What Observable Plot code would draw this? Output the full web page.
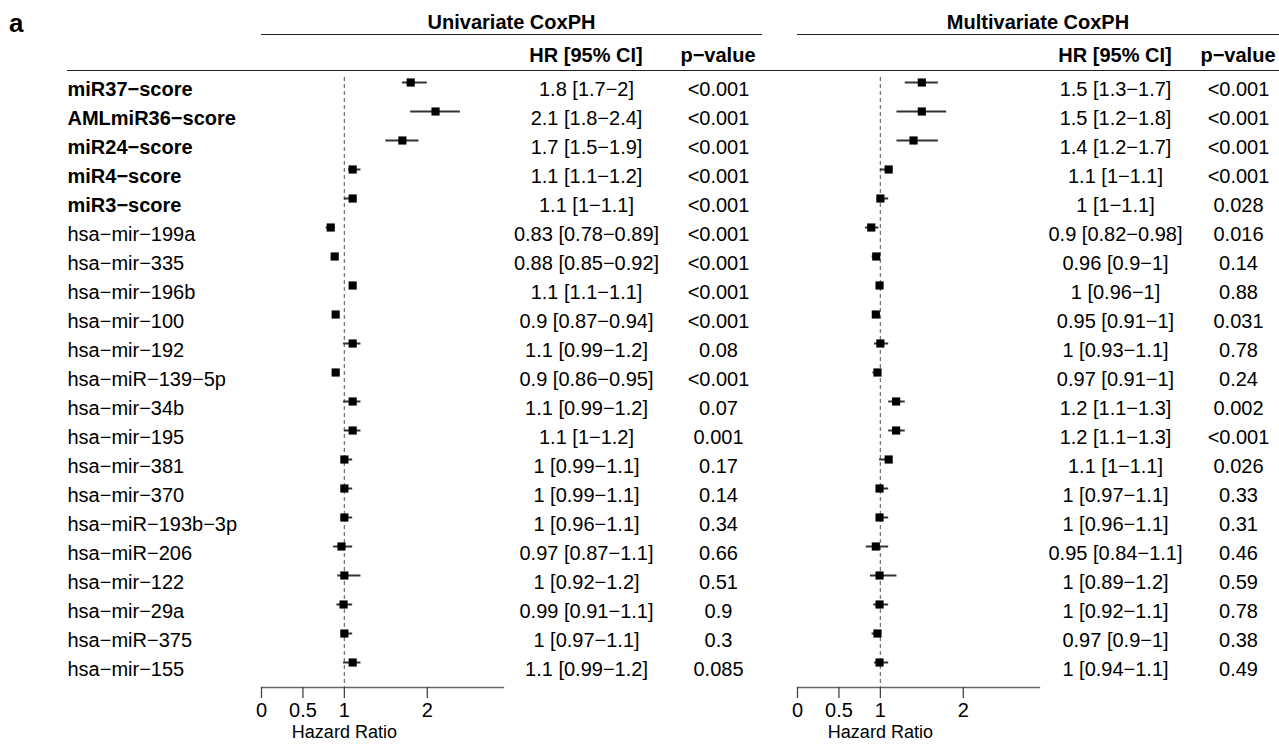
<!DOCTYPE html>
<html>
<head>
<meta charset="utf-8">
<script src="https://cdn.jsdelivr.net/npm/d3@7"></script>
<script src="https://cdn.jsdelivr.net/npm/@observablehq/plot@0.6"></script>
<style>
  html, body { margin: 0; padding: 0; background: white; }
  #wrap { position: relative; width: 1279px; height: 744px; overflow: hidden; font-family: "Liberation Sans", Arial, sans-serif; color: black; }
  .abs { position: absolute; white-space: nowrap; }
  .hdr { font-weight: bold; font-size: 20px; line-height: 20px; text-align: center; }
  #charts { position: absolute; left: 0; top: 71px; width: 1279px; height: 673px; }
  #charts > svg { position: absolute; top: 0; max-width: none !important; }
</style>
</head>
<body>
<div id="wrap">
  <div id="charts"></div>
  <div class="abs" style="left:9px;top:10px;font-weight:bold;font-size:26px;line-height:26px;">a</div>
  <div class="abs hdr" id="t1" style="top:10px;height:24px;line-height:24px;border-bottom:1.3px solid #222;"></div>
  <div class="abs hdr" id="t2" style="top:10px;height:24px;line-height:24px;border-bottom:1.3px solid #222;"></div>
  <div class="abs hdr" id="h1" style="top:45px;width:200px;"></div>
  <div class="abs hdr" id="h2" style="top:45px;width:200px;"></div>
  <div class="abs hdr" id="h3" style="top:45px;width:200px;"></div>
  <div class="abs hdr" id="h4" style="top:45px;width:200px;"></div>
  <div class="abs" style="left:67px;top:70px;width:1212px;height:0;border-top:1.3px solid #222;"></div>
</div>
<script>
// ---- data ----
const names = ["miR37−score","AMLmiR36−score","miR24−score","miR4−score","miR3−score",
  "hsa−mir−199a","hsa−mir−335","hsa−mir−196b","hsa−mir−100","hsa−mir−192","hsa−miR−139−5p",
  "hsa−mir−34b","hsa−mir−195","hsa−mir−381","hsa−mir−370","hsa−miR−193b−3p","hsa−miR−206",
  "hsa−mir−122","hsa−mir−29a","hsa−miR−375","hsa−mir−155"];
const boldCount = 5;

const uniHR = [1.8, 2.1, 1.7, 1.1, 1.1, 0.835, 0.883, 1.1, 0.895, 1.1, 0.895, 1.1, 1.1, 1.0, 1.0, 1.0, 0.965, 1.0, 0.99, 1.0, 1.1];
const uniLo = [1.7, 1.8, 1.5, 1.05, 1.0, 0.78, 0.85, 1.07, 0.87, 0.99, 0.86, 0.99, 1.0, 0.99, 0.99, 0.96, 0.87, 0.92, 0.91, 0.97, 0.99];
const uniHi = [2.0, 2.4, 1.9, 1.2, 1.12, 0.89, 0.92, 1.13, 0.94, 1.2, 0.95, 1.2, 1.2, 1.1, 1.1, 1.1, 1.1, 1.2, 1.1, 1.1, 1.2];
const uniText = ["1.8 [1.7−2]","2.1 [1.8−2.4]","1.7 [1.5−1.9]","1.1 [1.1−1.2]","1.1 [1−1.1]",
  "0.83 [0.78−0.89]","0.88 [0.85−0.92]","1.1 [1.1−1.1]","0.9 [0.87−0.94]","1.1 [0.99−1.2]",
  "0.9 [0.86−0.95]","1.1 [0.99−1.2]","1.1 [1−1.2]","1 [0.99−1.1]","1 [0.99−1.1]","1 [0.96−1.1]",
  "0.97 [0.87−1.1]","1 [0.92−1.2]","0.99 [0.91−1.1]","1 [0.97−1.1]","1.1 [0.99−1.2]"];
const uniP = ["<0.001","<0.001","<0.001","<0.001","<0.001","<0.001","<0.001","<0.001","<0.001","0.08",
  "<0.001","0.07","0.001","0.17","0.14","0.34","0.66","0.51","0.9","0.3","0.085"];

const multiHR = [1.5, 1.5, 1.4, 1.1, 1.0, 0.89, 0.95, 0.99, 0.945, 1.0, 0.965, 1.19, 1.19, 1.1, 0.99, 0.99, 0.945, 0.99, 0.99, 0.965, 0.99];
const multiLo = [1.3, 1.2, 1.2, 1.0, 0.99, 0.82, 0.9, 0.96, 0.91, 0.93, 0.91, 1.1, 1.1, 0.99, 0.97, 0.96, 0.83, 0.88, 0.92, 0.9, 0.93];
const multiHi = [1.7, 1.8, 1.7, 1.13, 1.1, 0.98, 1.0, 1.0, 1.0, 1.1, 1.0, 1.3, 1.3, 1.1, 1.1, 1.1, 1.1, 1.2, 1.1, 1.0, 1.1];
const multiText = ["1.5 [1.3−1.7]","1.5 [1.2−1.8]","1.4 [1.2−1.7]","1.1 [1−1.1]","1 [1−1.1]",
  "0.9 [0.82−0.98]","0.96 [0.9−1]","1 [0.96−1]","0.95 [0.91−1]","1 [0.93−1.1]","0.97 [0.91−1]",
  "1.2 [1.1−1.3]","1.2 [1.1−1.3]","1.1 [1−1.1]","1 [0.97−1.1]","1 [0.96−1.1]","0.95 [0.84−1.1]",
  "1 [0.89−1.2]","1 [0.92−1.1]","0.97 [0.9−1]","1 [0.94−1.1]"];
const multiP = ["<0.001","<0.001","<0.001","<0.001","0.028","0.016","0.14","0.88","0.031","0.78",
  "0.24","0.002","<0.001","0.026","0.33","0.31","0.46","0.59","0.78","0.38","0.49"];

const panelTitles = ["Univariate CoxPH", "Multivariate CoxPH"];
const colHeaders = ["HR [95% CI]", "p−value"];
const xTicks = [0, 0.5, 1, 2];
const xLabel = "Hazard Ratio";
const xDomain = [0, 2.92];

// ---- header (HTML, above the SVG area) ----
function place(id, text, center, width) {
  const el = document.getElementById(id);
  el.textContent = text;
  el.style.width = width + "px";
  el.style.left = (center - width / 2) + "px";
}
const t1 = document.getElementById("t1"); t1.textContent = panelTitles[0]; t1.style.left = "261px"; t1.style.width = "501px";
const t2 = document.getElementById("t2"); t2.textContent = panelTitles[1]; t2.style.left = "797px"; t2.style.width = "482px";
place("h1", colHeaders[0], 586, 200);
place("h2", colHeaders[1], 718, 120);
place("h3", colHeaders[0], 1115, 200);
place("h4", colHeaders[1], 1238, 120);

// ---- charts ----
const H = 673;
function panel({hr, lo, hi, txt, p, width, marginLeft, marginRight, hrDx, pDx, withLabels}) {
  const rows = names.map((n, i) => ({name: n, hr: hr[i], lo: lo[i], hi: hi[i], txt: txt[i], p: p[i], bold: i < boldCount}));
  const marks = [
    Plot.ruleX([1], {stroke: "#777", strokeWidth: 1.3, strokeDasharray: "4,3"}),
    Plot.frame({anchor: "bottom", stroke: "#666", strokeWidth: 1.3}),
    Plot.axisX({ticks: xTicks, tickSize: 11, tickPadding: 4, stroke: "#444", strokeWidth: 1.3, label: null, tickFormat: d => String(d), fontSize: 20}),
    Plot.text([1], {x: d => d, text: () => xLabel, frameAnchor: "bottom", lineAnchor: "middle", dy: 45, fontSize: 18}),
    Plot.ruleY(rows, {y: "name", x1: "lo", x2: "hi", stroke: "#333", strokeWidth: 2}),
    Plot.dot(rows, {y: "name", x: "hr", symbol: "square", r: 4.6, fill: "black", stroke: null}),
    Plot.text(rows, {y: "name", text: "txt", frameAnchor: "left", dx: hrDx, dy: 7, textAnchor: "middle"}),
    Plot.text(rows, {y: "name", text: "p", frameAnchor: "left", dx: pDx, dy: 7, textAnchor: "middle"})
  ];
  if (withLabels) {
    marks.push(Plot.text(rows.filter(d => d.bold), {y: "name", text: "name", frameAnchor: "left", dx: 67 - 261, dy: 7, textAnchor: "start", fontWeight: "bold"}));
    marks.push(Plot.text(rows.filter(d => !d.bold), {y: "name", text: "name", frameAnchor: "left", dx: 67 - 261, dy: 7, textAnchor: "start"}));
  }
  return Plot.plot({
    width, height: H,
    marginLeft, marginRight, marginTop: 6, marginBottom: 57,
    x: {domain: xDomain},
    y: {type: "point", domain: names, range: [9, 593], padding: 0, axis: null},
    style: {fontFamily: '"Liberation Sans", Arial, sans-serif', fontSize: "20px", background: "transparent", color: "black", overflow: "visible"},
    marks
  });
}

const left = panel({hr: uniHR, lo: uniLo, hi: uniHi, txt: uniText, p: uniP,
  width: 790, marginLeft: 261, marginRight: 790 - 503, hrDx: 586 - 261, pDx: 718 - 261, withLabels: true});
const right = panel({hr: multiHR, lo: multiLo, hi: multiHi, txt: multiText, p: multiP,
  width: 489, marginLeft: 7, marginRight: 489 - 249, hrDx: 1115 - 797, pDx: 1238 - 797, withLabels: false});
left.style.left = "0px";
right.style.left = "790px";
const charts = document.getElementById("charts");
charts.appendChild(left);
charts.appendChild(right);
</script>
</body>
</html>
